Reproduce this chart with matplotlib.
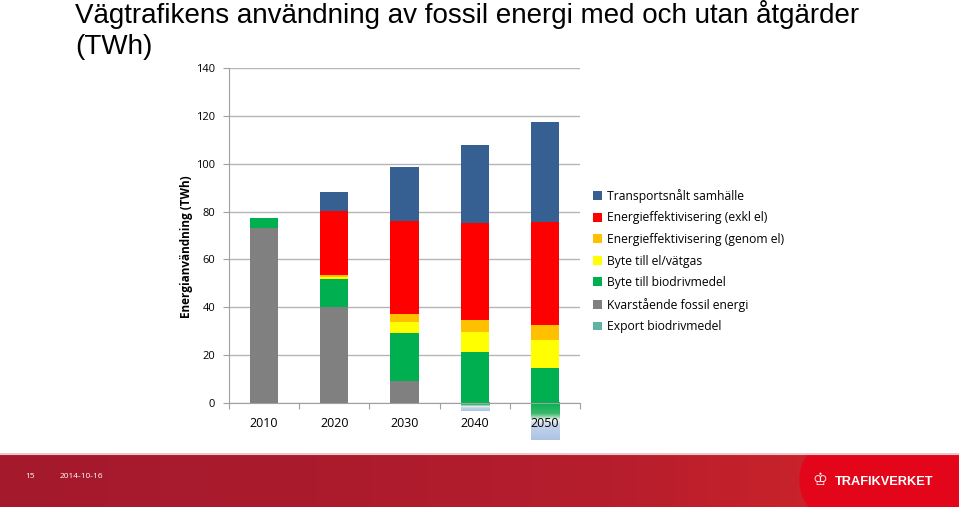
import matplotlib.pyplot as plt
import numpy as np
from matplotlib.colors import LinearSegmentedColormap
from matplotlib.patches import Ellipse, Rectangle

years = ['2010', '2020', '2030', '2040', '2050']
kvarstaende = [73.0, 40.0, 9.2, 0.0, 0.0]
biodrivmedel = [4.4, 11.8, 20.2, 21.3, 14.5]
el_vatgas = [0.0, 1.0, 4.6, 8.2, 11.8]
eff_genom_el = [0.0, 0.8, 3.1, 5.0, 6.4]
eff_exkl_el = [0.0, 26.5, 39.0, 40.6, 43.1]
transportsnalt = [0.0, 7.9, 22.4, 32.6, 41.8]
export_bio = [0.0, 0.0, 0.0, -3.5, -15.5]

series = [
    ('Kvarstående fossil energi', kvarstaende, '#808080'),
    ('Byte till biodrivmedel', biodrivmedel, '#00b050'),
    ('Byte till el/vätgas', el_vatgas, '#ffff00'),
    ('Energieffektivisering (genom el)', eff_genom_el, '#ffc000'),
    ('Energieffektivisering (exkl el)', eff_exkl_el, '#ff0000'),
    ('Transportsnålt samhälle', transportsnalt, '#376092'),
]

plt.rcParams['font.family'] = ['Open Sans', 'DejaVu Sans']

fig = plt.figure(figsize=(9.59, 5.07), dpi=100)
ax = fig.add_axes([229/959, 1 - 403/507, 351/959, 335/507])

x = np.arange(len(years))
w = 0.4
bottom = np.zeros(len(years))
handles = {}
for name, vals, col in series:
    b = ax.bar(x, vals, w, bottom=bottom, color=col, zorder=3, clip_on=False)
    handles[name] = b
    bottom += np.array(vals)

# export as negative bars with gradient fill
exp_cmap = LinearSegmentedColormap.from_list(
    'exp', [(0, '#00b050'), (0.3, '#3cb86a'), (0.47, '#eef3f4'), (0.62, '#c3d3ea'), (1, '#adc3e4')])
grad = np.linspace(0, 1, 200).reshape(-1, 1)
exp_bars = ax.bar(x, export_bio, w, color='none', zorder=3, clip_on=False)
for rect in exp_bars:
    h = rect.get_height()
    if h == 0:
        continue
    x0 = rect.get_x()
    im = ax.imshow(grad, extent=[x0, x0 + rect.get_width(), rect.get_y() + h, rect.get_y()],
                   aspect='auto', cmap=exp_cmap, zorder=3, origin='upper')
    im.set_clip_path(rect)
    im.set_clip_box(fig.bbox)

ax.set_xlim(-0.5, len(years) - 0.5)
ax.set_ylim(0, 140)
ax.set_yticks(np.arange(0, 141, 20))
ax.tick_params(axis='y', labelsize=8, length=4, color='#a0a0a0', pad=6)
ax.yaxis.grid(True, color='#b5b5b5', linewidth=1)
ax.set_axisbelow(True)

ax.set_xticks(np.arange(-0.5, len(years), 1.0))
ax.set_xticklabels([])
ax.tick_params(axis='x', length=4, color='#a0a0a0')
ax.set_xticks(x, minor=True)
ax.set_xticklabels(years, minor=True, fontsize=9)
ax.tick_params(axis='x', which='minor', length=0, pad=10)
ax.xaxis.set_zorder(5)

for s in ['top', 'right']:
    ax.spines[s].set_visible(False)
ax.spines['left'].set_color('#a0a0a0')
ax.spines['bottom'].set_color('#a0a0a0')
ax.spines['bottom'].set_zorder(5)

ax.set_ylabel('Energianvändning (TWh)', fontsize=8.5, fontweight='bold')
ax.yaxis.set_label_coords(-0.103, 0.466)

# legend
order = ['Transportsnålt samhälle', 'Energieffektivisering (exkl el)',
         'Energieffektivisering (genom el)', 'Byte till el/vätgas',
         'Byte till biodrivmedel', 'Kvarstående fossil energi']
h_list = [handles[n] for n in order]
exp_handle = Rectangle((0, 0), 1, 1, facecolor='#5fb2a4')
leg = fig.legend(h_list + [exp_handle], order + ['Export biodrivmedel'],
                 loc='upper left', bbox_to_anchor=(588/959, 1 - 184/507),
                 frameon=False, fontsize=8.7, handlelength=0.75, handleheight=0.75,
                 handletextpad=0.4, labelspacing=0.71, borderaxespad=0)

fig.text(75/959, 1 - 0/507, 'Vägtrafikens användning av fossil energi med och utan åtgärder\n(TWh)',
         fontsize=20, family='Liberation Sans', va='top', ha='left', linespacing=1.25)

# footer band
fax = fig.add_axes([0, 0, 1, 54/507])
fax.set_xlim(0, 959)
fax.set_ylim(0, 54)
fax.axis('off')
foot_cmap = LinearSegmentedColormap.from_list('foot', ['#a5192e', '#ab1b2d', '#b81e2c', '#d8272a'])
fax.imshow(np.linspace(0, 1, 256).reshape(1, -1), extent=[0, 959, 0, 54], aspect='auto', cmap=foot_cmap)
fax.add_patch(Rectangle((830, 0), 129, 54, color='#e3061b', zorder=2))
fax.add_patch(Ellipse((835, 27), 70, 80, color='#e3061b', zorder=2))
fax.axhline(53.5, color='#e8c8c8', lw=1.5, zorder=3)
fax.text(25, 31, '15', color='white', fontsize=6, va='center')
fax.text(60, 31, '2014-10-16', color='white', fontsize=6, va='center')
fax.text(835, 25, 'TRAFIKVERKET', color='white', fontsize=9.2, fontweight='bold',
         family='Liberation Sans', va='center', zorder=4)
fax.text(820, 27, '♔', color='white', fontsize=12, family='DejaVu Sans', va='center', ha='center', zorder=4)

fig.savefig('out.png', dpi=100)
